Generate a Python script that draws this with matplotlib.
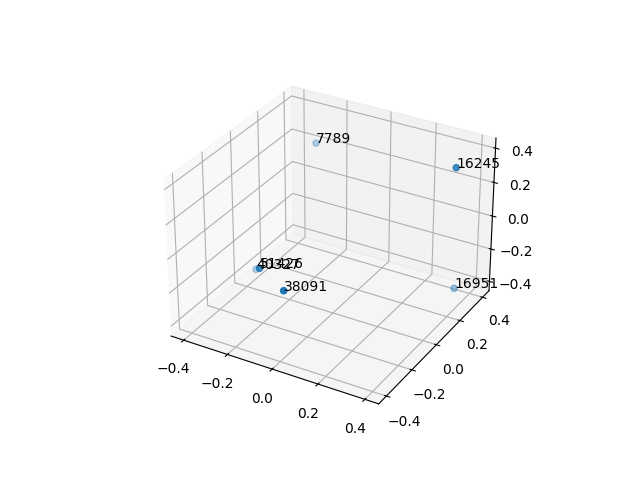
import matplotlib
matplotlib.use("Agg")
import matplotlib.pyplot as plt

labels = ["7789", "16245", "16951", "38091", "40327", "51426"]
xs = [-0.31, 0.4, 0.36, 0.02, -0.4, -0.13]
ys = [0.4, 0.24, 0.34, -0.4, 0.07, -0.328]
zs = [0.2, 0.4, -0.4, -0.03, -0.4, -0.01]

fig = plt.figure(figsize=(6.4, 4.8), dpi=100)
ax = fig.add_subplot(projection="3d")
ax.scatter(xs, ys, zs)
for x, y, z, t in zip(xs, ys, zs, labels):
    ax.text(x, y, z, t)

fig.savefig("out.png")
